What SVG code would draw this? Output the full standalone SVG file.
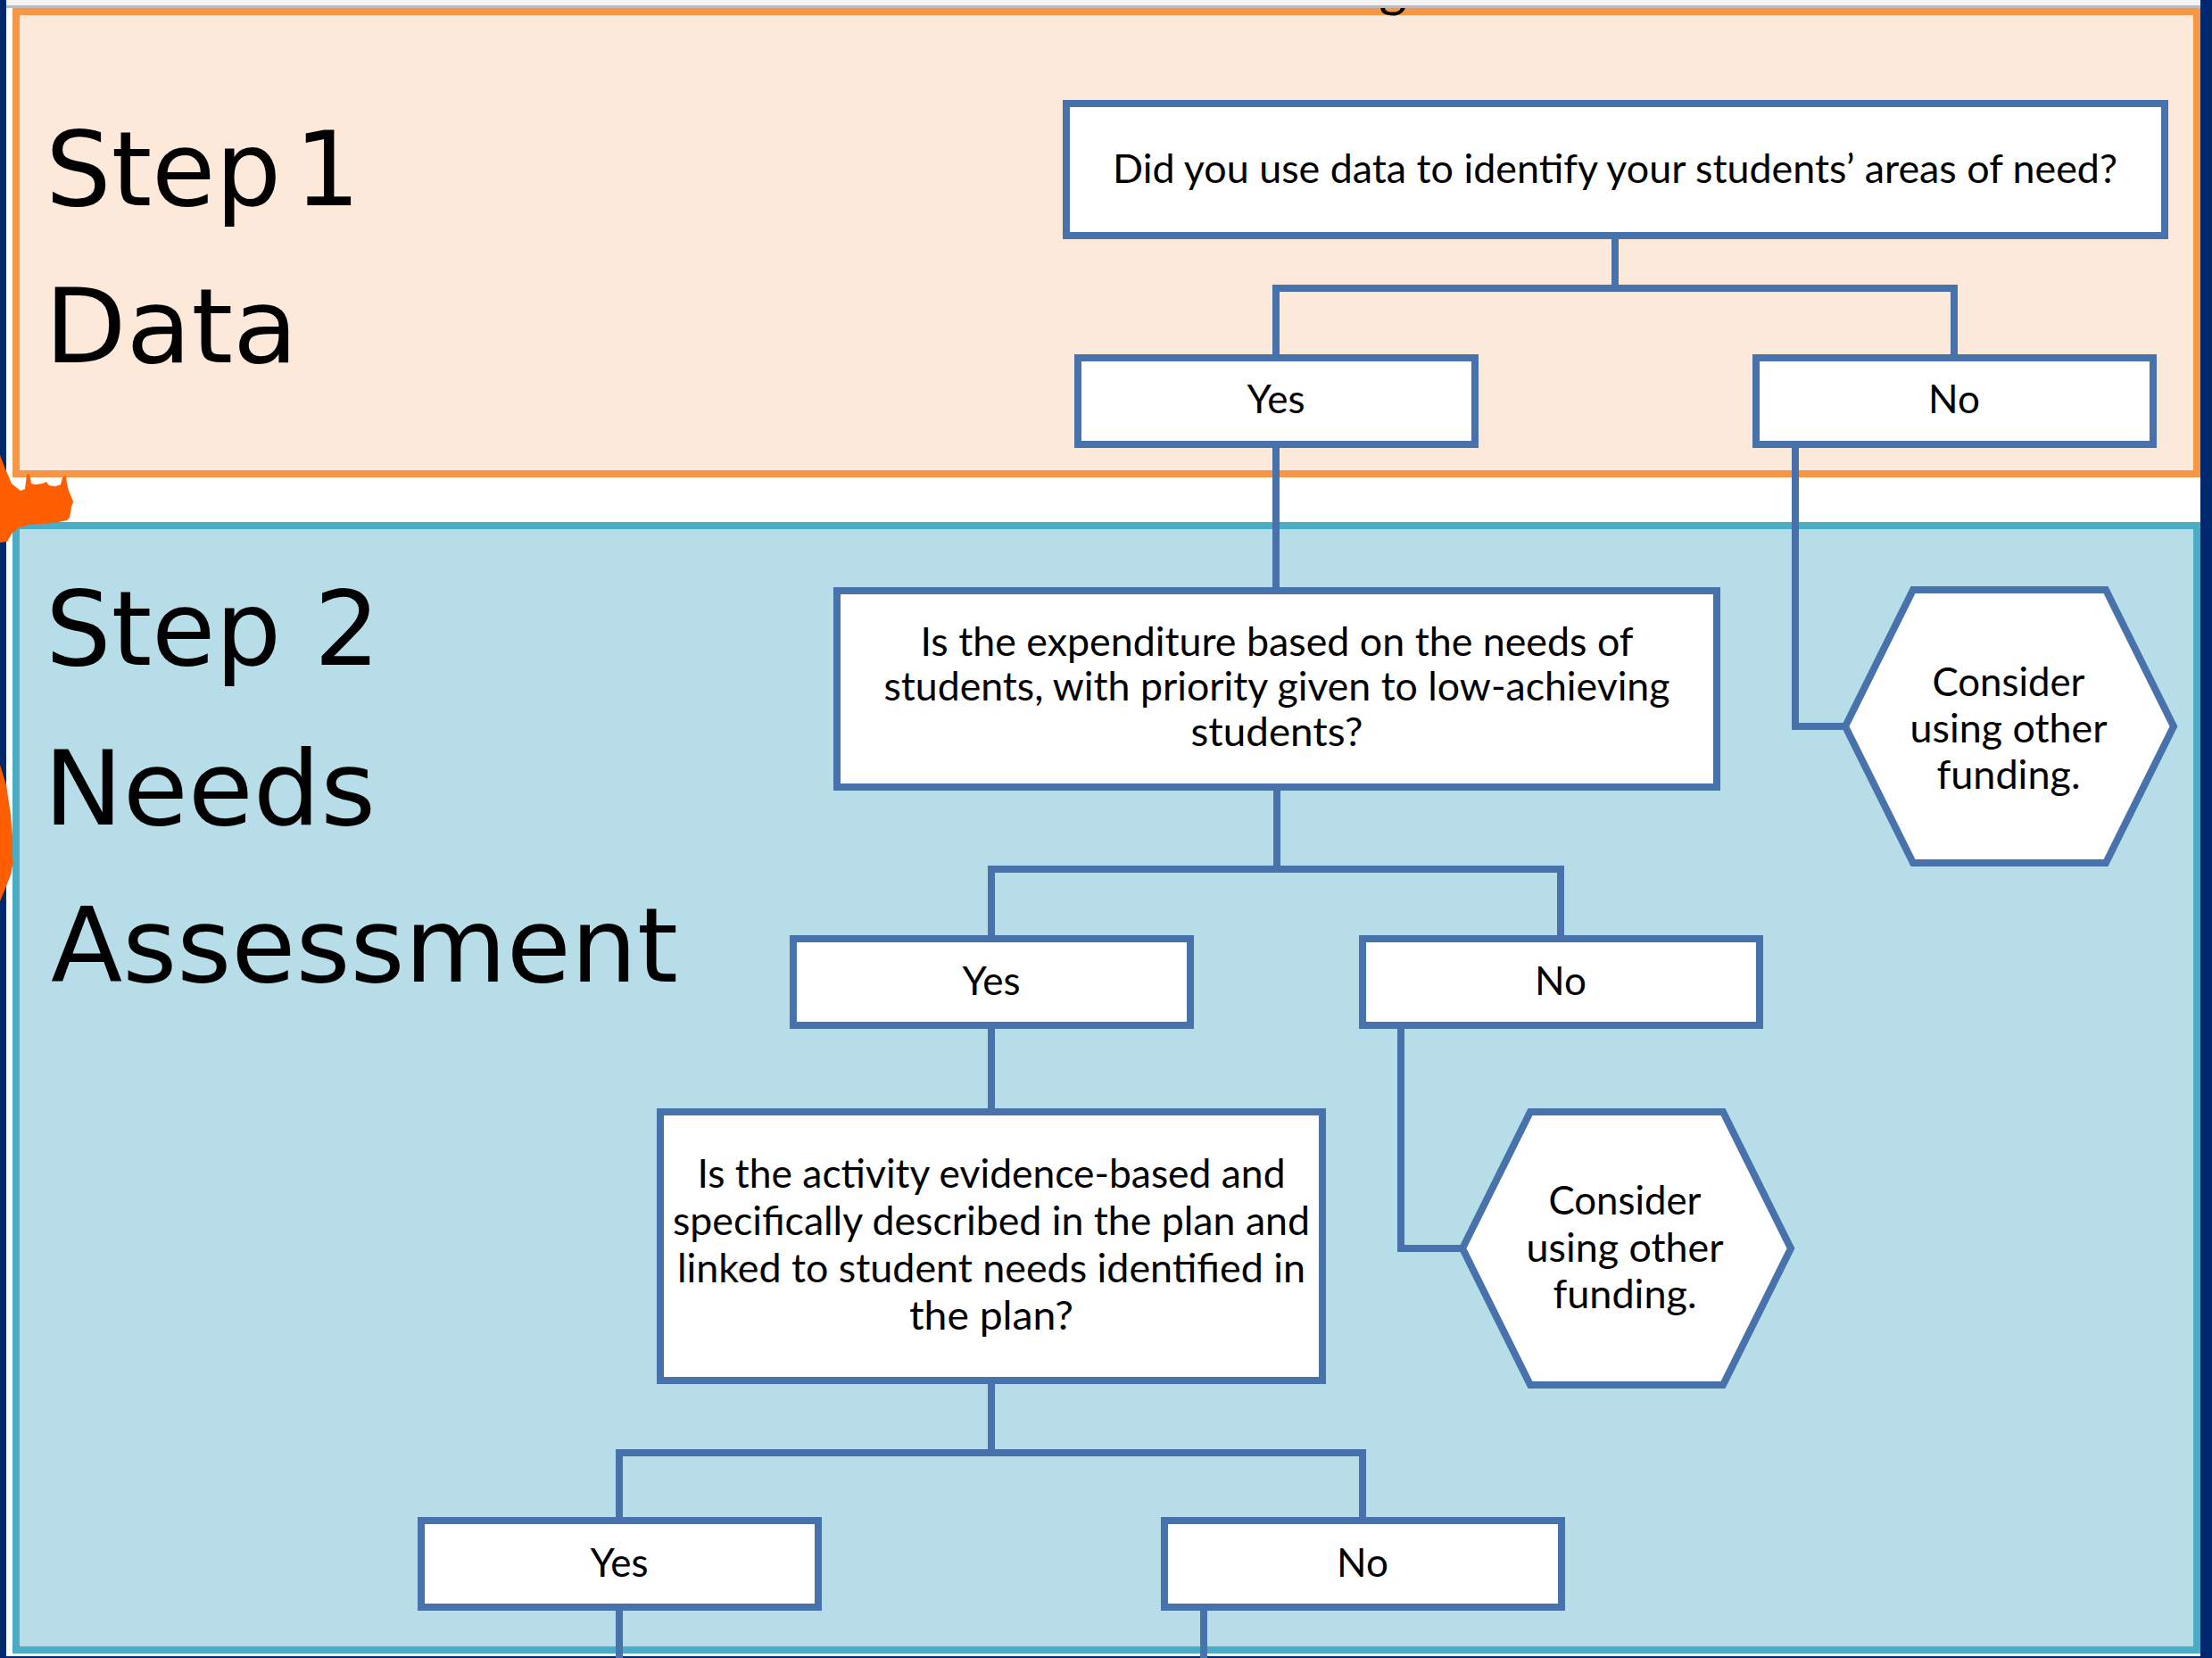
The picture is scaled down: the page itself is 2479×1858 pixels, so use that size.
<svg xmlns="http://www.w3.org/2000/svg" width="2479" height="1858" viewBox="0 0 2479 1858">
<style>
.box{fill:#ffffff;stroke:#4872ab;stroke-width:8}
.conn{fill:none;stroke:#4872ab;stroke-width:8;stroke-linejoin:miter;stroke-linecap:butt}
.t{font-family:Lato,"Liberation Sans",sans-serif;font-size:44px;fill:#000;text-anchor:middle}
.step{font-family:"DejaVu Sans","Liberation Sans",sans-serif;font-size:116px;fill:#000}
.navy{fill:#00286e}
.blob{fill:#ff5e00}
</style>
<rect x="0" y="0" width="2479" height="1858" fill="#ffffff"/>

<g id="panel-step1">
<rect x="18" y="13" width="2444" height="518" fill="#fde9d9" stroke="#f79646" stroke-width="8"/>
<text class="step" x="51" y="230" style="word-spacing:-22px">Step 1</text>
<text class="step" x="50" y="406" textLength="284" lengthAdjust="spacingAndGlyphs">Data</text>
</g>

<g id="panel-step2">
<rect x="18" y="589" width="2444" height="1260" fill="#b7dde8" stroke="#4bacc6" stroke-width="8"/>
<text class="step" x="51" y="745">Step 2</text>
<text class="step" x="49" y="924" textLength="372" lengthAdjust="spacingAndGlyphs">Needs</text>
<text class="step" x="57" y="1100" textLength="703" lengthAdjust="spacingAndGlyphs">Assessment</text>
</g>

<text x="1561" y="7" font-family="Lato,'Liberation Sans',sans-serif" font-size="60" text-anchor="middle" fill="#000">g</text>
<rect x="7" y="0" width="2459" height="6" fill="#f4f4f4"/>
<rect x="7" y="6" width="2459" height="3" fill="#bdbdbd"/>

<rect class="navy" x="0" y="0" width="7" height="1858"/>
<rect class="navy" x="2466" y="0" width="13" height="1858"/>
<rect class="navy" x="0" y="1856" width="2479" height="2"/>

<path class="blob" d="M0 510 L5 523 L13 542 L23 550 L28 548 L30 532 L33 531 L35 542 L40 543 L47 542 L52 540 L55 544 L62 545 L68 543 L70 535 L74 533 L75 542 L77 550 L82 562 L80 568 L78 580 L75 583 L60 586 L33 588 L20 592 L13 598 L8 607 L0 608 Z"/>
<path class="blob" d="M0 857 L7 880 L12 913 L14 937 L14 963 L15 965 L12 980 L7 993 L0 1010 Z"/>

<g id="connectors">
<path class="conn" d="M1810 262 V323"/>
<path class="conn" d="M1430 401 V323 H2190 V401"/>
<path class="conn" d="M1430 498 V662"/>
<path class="conn" d="M2012 498 V814 H2068"/>
<path class="conn" d="M1431 882 V974"/>
<path class="conn" d="M1111 1052 V974 H1749 V1052"/>
<path class="conn" d="M1111 1148 V1246"/>
<path class="conn" d="M1570 1148 V1399 H1639"/>
<path class="conn" d="M1111 1547 V1628"/>
<path class="conn" d="M694 1704 V1628 H1527 V1704"/>
<path class="conn" d="M694 1801 V1858"/>
<path class="conn" d="M1349 1801 V1858"/>
</g>

<g id="q1">
<rect class="box" x="1195" y="116" width="1231" height="148"/>
<text class="t" x="1810" y="205" textLength="1126" lengthAdjust="spacingAndGlyphs">Did you use data to identify your students’ areas of need?</text>
</g>
<g id="q1-yes">
<rect class="box" x="1208" y="401" width="445" height="97"/>
<text class="t" x="1430" y="463">Yes</text>
</g>
<g id="q1-no">
<rect class="box" x="1968" y="401" width="445" height="97"/>
<text class="t" x="2190" y="463">No</text>
</g>
<g id="hex1">
<polygon class="box" points="2068,814 2144,661 2360,661 2436,814 2360,967 2144,967"/>
<text class="t" x="2251" y="780" textLength="171" lengthAdjust="spacingAndGlyphs">Consider</text>
<text class="t" x="2251" y="832" textLength="221" lengthAdjust="spacingAndGlyphs">using other</text>
<text class="t" x="2251" y="884" textLength="161" lengthAdjust="spacingAndGlyphs">funding.</text>
</g>
<g id="q2">
<rect class="box" x="938" y="662" width="986" height="220"/>
<text class="t" x="1431" y="735" textLength="799" lengthAdjust="spacingAndGlyphs">Is the expenditure based on the needs of</text>
<text class="t" x="1431" y="785" textLength="881" lengthAdjust="spacingAndGlyphs">students, with priority given to low-achieving</text>
<text class="t" x="1431" y="836" textLength="193" lengthAdjust="spacingAndGlyphs">students?</text>
</g>
<g id="q2-yes">
<rect class="box" x="889" y="1052" width="445" height="97"/>
<text class="t" x="1111" y="1115">Yes</text>
</g>
<g id="q2-no">
<rect class="box" x="1527" y="1052" width="445" height="97"/>
<text class="t" x="1749" y="1115">No</text>
</g>
<g id="hex2">
<polygon class="box" points="1639,1399 1715,1246 1931,1246 2007,1399 1931,1552 1715,1552"/>
<text class="t" x="1821" y="1361" textLength="171" lengthAdjust="spacingAndGlyphs">Consider</text>
<text class="t" x="1821" y="1414" textLength="221" lengthAdjust="spacingAndGlyphs">using other</text>
<text class="t" x="1821" y="1466" textLength="161" lengthAdjust="spacingAndGlyphs">funding.</text>
</g>
<g id="q3">
<rect class="box" x="740" y="1246" width="742" height="301"/>
<text class="t" x="1111" y="1331" textLength="659" lengthAdjust="spacingAndGlyphs">Is the activity evidence-based and</text>
<text class="t" x="1111" y="1384" textLength="714" lengthAdjust="spacingAndGlyphs">specifically described in the plan and</text>
<text class="t" x="1111" y="1437" textLength="704" lengthAdjust="spacingAndGlyphs">linked to student needs identified in</text>
<text class="t" x="1111" y="1490" textLength="184" lengthAdjust="spacingAndGlyphs">the plan?</text>
</g>
<g id="q3-yes">
<rect class="box" x="472" y="1704" width="445" height="97"/>
<text class="t" x="694" y="1767">Yes</text>
</g>
<g id="q3-no">
<rect class="box" x="1305" y="1704" width="445" height="97"/>
<text class="t" x="1527" y="1767">No</text>
</g>
</svg>
